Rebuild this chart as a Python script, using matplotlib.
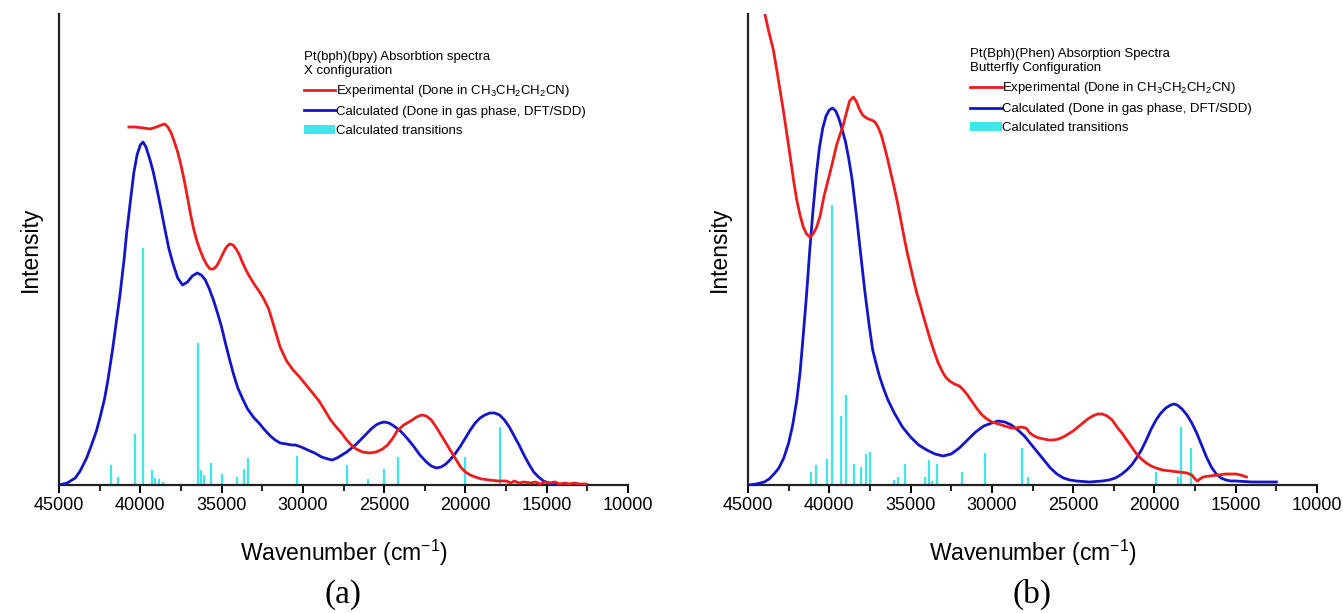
import numpy as np
import matplotlib
matplotlib.use("Agg")
import matplotlib.pyplot as plt
from matplotlib.lines import Line2D
from matplotlib.patches import Patch
from matplotlib.ticker import MultipleLocator

plt.rcParams['font.family'] = ['Liberation Sans', 'DejaVu Sans']
plt.rcParams['mathtext.default'] = 'regular'

# ---- panel (a): Pt(bph)(bpy), X configuration ----
a_exp_wn = [40700, 40300, 39800, 39400, 39000, 38700, 38500, 38300, 38100, 37900,
            37700, 37500, 37300, 37100, 36900, 36700, 36500, 36300, 36100, 35900,
            35700, 35500, 35300, 35100, 34900, 34700, 34500, 34300, 34100, 33900,
            33700, 33500, 33300, 33000, 32700, 32400, 32100, 31800, 31400, 31000,
            30600, 30200, 29800, 29400, 29000, 28700, 28330, 28000, 27620, 27300,
            26910, 26600, 26320, 25900, 25490, 25100, 24790, 24500, 24200, 23800,
            23370, 23000, 22700, 22400, 22100, 21800, 21500, 21200, 20900, 20600,
            20300, 20000, 19700, 19400, 19000, 18500, 18000, 17500, 17200, 17000,
            16700, 16400, 16000, 15700, 15400, 15100, 14800, 14500, 14200, 13900,
            13600, 13300, 13000, 12600]
a_exp_int = [358, 358, 357, 356, 358, 360, 361, 358, 352, 343,
             333, 320, 305, 288, 270, 255, 243, 234, 226, 220,
             216, 216, 219, 225, 232, 238, 241, 240, 236, 230,
             222, 215, 209, 201, 194, 186, 176, 160, 138, 124,
             115, 108, 100, 92, 84, 76, 66, 59, 52, 45,
             38, 35, 33, 32, 33, 36, 40, 46, 54, 60,
             64, 68, 70, 69, 65, 58, 50, 42, 34, 26,
             18, 13, 10, 8, 6, 5, 4, 4, 2, 4,
             2, 3, 2, 3, 1, 3, 2, 3, 1, 2,
             1, 2, 1, 1]

a_calc_wn = [45000, 44500, 44000, 43700, 43300, 43000, 42700, 42500, 42200, 42000,
             41700, 41500, 41250, 41000, 40840, 40600, 40400, 40200, 40000, 39830,
             39650, 39400, 39200, 39000, 38750, 38500, 38250, 38000, 37700, 37400,
             37100, 36800, 36500, 36250, 36000, 35750, 35500, 35250, 35000, 34750,
             34500, 34250, 34000, 33700, 33400, 33000, 32700, 32400, 32000, 31700,
             31400, 31000, 30700, 30450, 30100, 29700, 29270, 28850, 28450, 28200,
             27900, 27600, 27300, 27000, 26700, 26400, 26100, 25800, 25500, 25250,
             25000, 24700, 24400, 24000, 23600, 23200, 22800, 22400, 22100, 21800,
             21500, 21200, 20900, 20600, 20300, 20000, 19700, 19400, 19100, 18800,
             18500, 18200, 17900, 17600, 17300, 17000, 16700, 16400, 16100, 15800,
             15500, 15200, 14900, 14500, 14000, 13000, 12500]
a_calc_int = [0, 2, 7, 14, 27, 40, 54, 66, 86, 104,
              136, 160, 190, 225, 252, 285, 312, 330, 340, 343,
              338, 325, 313, 298, 278, 257, 237, 222, 207, 200,
              203, 209, 212, 210, 205, 196, 185, 172, 158, 141,
              125, 110, 97, 86, 76, 67, 62, 56, 49, 45,
              42, 41, 40, 40, 38, 35, 32, 28, 26, 25,
              27, 30, 33, 37, 41, 46, 51, 56, 60, 62,
              63, 62, 59, 54, 47, 39, 30, 23, 19, 17,
              18, 21, 26, 32, 39, 47, 55, 62, 67, 70,
              72, 72, 70, 65, 58, 49, 40, 30, 21, 13,
              8, 4, 2, 1, 0, 0, 0]

a_trans_wn = [41800, 41390, 40330, 39815, 39300, 39100, 38850, 38600, 36470, 36270,
              36060, 35670, 35000, 34070, 33620, 33360, 30340, 27310, 26000, 25000,
              24150, 20030, 17880]
a_trans_int = [20, 8, 51, 237, 15, 7, 6, 3, 142, 15,
               10, 22, 11, 8, 16, 27, 29, 20, 6, 16,
               28, 28, 58]

# ---- panel (b): Pt(Bph)(Phen), butterfly configuration ----
b_exp_wn = [44200, 43950, 43700, 43440, 43200, 43000, 42800, 42620, 42400, 42200,
            42000, 41800, 41600, 41400, 41190, 41000, 40770, 40550, 40350, 40150,
            39960, 39750, 39550, 39350, 39140, 38950, 38750, 38520, 38350, 38150,
            37950, 37800, 37600, 37400, 37190, 37000, 36800, 36600, 36400, 36200,
            36000, 35800, 35600, 35400, 35200, 35000, 34800, 34620, 34400, 34200,
            34000, 33800, 33560, 33300, 33000, 32800, 32600, 32300, 32000, 31800,
            31500, 31200, 30900, 30600, 30300, 30000, 29600, 29200, 28800, 28500,
            28200, 27900, 27660, 27400, 27100, 26800, 26500, 26200, 25900, 25600,
            25300, 25000, 24700, 24400, 24100, 23800, 23500, 23200, 22900, 22600,
            22300, 22000, 21700, 21400, 21100, 20800, 20500, 20200, 19900, 19500,
            19000, 18500, 18000, 17700, 17500, 17350, 17200, 17000, 16600, 16100,
            15600, 15280, 15000, 14700, 14340]
b_exp_int = [490, 470, 452, 435, 412, 392, 372, 352, 328, 305,
             285, 270, 258, 251, 248, 251, 258, 270, 287, 300,
             312, 326, 340, 350, 360, 372, 384, 388, 384, 376,
             370, 368, 366, 365, 363, 358, 350, 338, 325, 311,
             297, 282, 265, 248, 232, 218, 204, 192, 180, 168,
             157, 146, 134, 122, 112, 107, 104, 101, 99, 96,
             90, 83, 76, 70, 66, 63, 61, 59, 57, 57,
             58, 57, 52, 49, 47, 46, 45, 45, 46, 48,
             51, 54, 58, 62, 66, 69, 71, 71, 69, 65,
             58, 52, 45, 38, 31, 26, 22, 19, 17, 15,
             14, 13, 12, 10, 6, 4, 6, 8, 9, 10,
             11, 11, 11, 10, 8]

b_calc_wn = [45000, 44500, 44000, 43700, 43400, 43100, 42800, 42500, 42250, 42000,
             41800, 41600, 41400, 41200, 41000, 40800, 40600, 40400, 40200, 40000,
             39800, 39600, 39400, 39200, 39000, 38800, 38600, 38320, 38050, 37800,
             37550, 37330, 37100, 36900, 36650, 36390, 36000, 35500, 35000, 34500,
             34000, 33500, 33000, 32500, 32000, 31500, 31000, 30500, 30000, 29600,
             29200, 28800, 28400, 28000, 27600, 27200, 26800, 26400, 26000, 25600,
             25200, 24800, 24000, 23200, 22800, 22400, 22000, 21700, 21400, 21100,
             20800, 20500, 20200, 19900, 19600, 19300, 19000, 18800, 18600, 18300,
             18000, 17700, 17400, 17100, 16800, 16500, 16200, 15900, 15600, 15300,
             15000, 14000, 13000, 12500]
b_calc_int = [0, 1, 3, 6, 11, 17, 27, 42, 60, 85,
              112, 150, 190, 235, 275, 310, 338, 357, 369, 375,
              377, 374, 366, 355, 343, 326, 306, 268, 228, 192,
              160, 135, 120, 108, 96, 85, 72, 58, 48, 40,
              35, 31, 29, 31, 37, 45, 53, 59, 62, 64,
              63, 60, 55, 49, 41, 33, 25, 17, 11, 7,
              5, 4, 3, 4, 5, 7, 11, 15, 20, 27,
              35, 45, 56, 65, 72, 77, 80, 81, 80, 76,
              70, 62, 52, 40, 28, 18, 11, 7, 5, 4,
              4, 3, 3, 3]

b_trans_wn = [41150, 40820, 40160, 39850, 39300, 38980, 38460, 38070, 37740, 37500,
              36020, 35760, 35330, 34120, 33850, 33700, 33400, 31820, 30420, 28170,
              27760, 19930, 18540, 18350, 17760]
b_trans_int = [13, 20, 26, 280, 69, 90, 21, 18, 31, 33,
               5, 8, 21, 8, 25, 4, 21, 13, 32, 37,
               8, 13, 8, 58, 37]

panels = [
    dict(exp=(a_exp_wn, a_exp_int), calc=(a_calc_wn, a_calc_int), trans=(a_trans_wn, a_trans_int),
         title="Pt(bph)(bpy) Absorbtion spectra\nX configuration", leg=(0.43, 0.922), tag="(a)",
         left=59 / 1343),
    dict(exp=(b_exp_wn, b_exp_int), calc=(b_calc_wn, b_calc_int), trans=(b_trans_wn, b_trans_int),
         title="Pt(Bph)(Phen) Absorption Spectra\nButterfly Configuration", leg=(0.39, 0.928), tag="(b)",
         left=748 / 1343),
]

red = '#ee1c1c'
blue = '#1414c8'
cyan = '#3fe6ea'

fig = plt.figure(figsize=(13.43, 6.13), dpi=100)
W = 569 / 1343
B = 1 - 485 / 613
H = 471 / 613

for p in panels:
    ax = fig.add_axes([p['left'], B, W, H])
    ax.vlines(p['trans'][0], 0, p['trans'][1], color=cyan, lw=1.6, zorder=1)
    ax.plot(p['calc'][0], p['calc'][1], color=blue, lw=2.0, zorder=3)
    ax.plot(p['exp'][0], p['exp'][1], color=red, lw=2.0, zorder=4)

    ax.set_xlim(45000, 10000)
    ax.set_ylim(0, 471)
    ax.xaxis.set_major_locator(MultipleLocator(5000))
    ax.xaxis.set_minor_locator(MultipleLocator(2500))
    ax.set_yticks([])
    for s in ['top', 'right']:
        ax.spines[s].set_visible(False)
    for s in ['left', 'bottom']:
        ax.spines[s].set_linewidth(1.6)
        ax.spines[s].set_color('#222222')
    ax.tick_params(axis='x', which='major', direction='out', length=6, width=1.4, labelsize=13, pad=3)
    ax.tick_params(axis='x', which='minor', direction='out', length=4, width=1.2)
    ax.set_xlabel('Wavenumber (cm$^{-1}$)', fontsize=16.5, labelpad=17)
    ax.set_ylabel('Intensity', fontsize=16.5, labelpad=12)

    handles = [Line2D([], [], color=red, lw=2.0),
               Line2D([], [], color=blue, lw=2.0),
               Patch(facecolor=cyan, edgecolor='none')]
    labels = ['Experimental (Done in CH$_3$CH$_2$CH$_2$CN)',
              'Calculated (Done in gas phase, DFT/SDD)',
              'Calculated transitions']
    leg = ax.legend(handles, labels, title=p['title'], loc='upper left', bbox_to_anchor=p['leg'],
                    frameon=False, fontsize=9.5, title_fontsize=9.5, alignment='left',
                    handlelength=2.4, handletextpad=0.05, labelspacing=0.5, borderaxespad=0,
                    borderpad=0)

    cx = p['left'] + W / 2
    fig.text(cx, 0.005, p['tag'], ha='center', va='bottom', fontsize=24, family='Liberation Serif')

fig.savefig('out.png', dpi=100)
